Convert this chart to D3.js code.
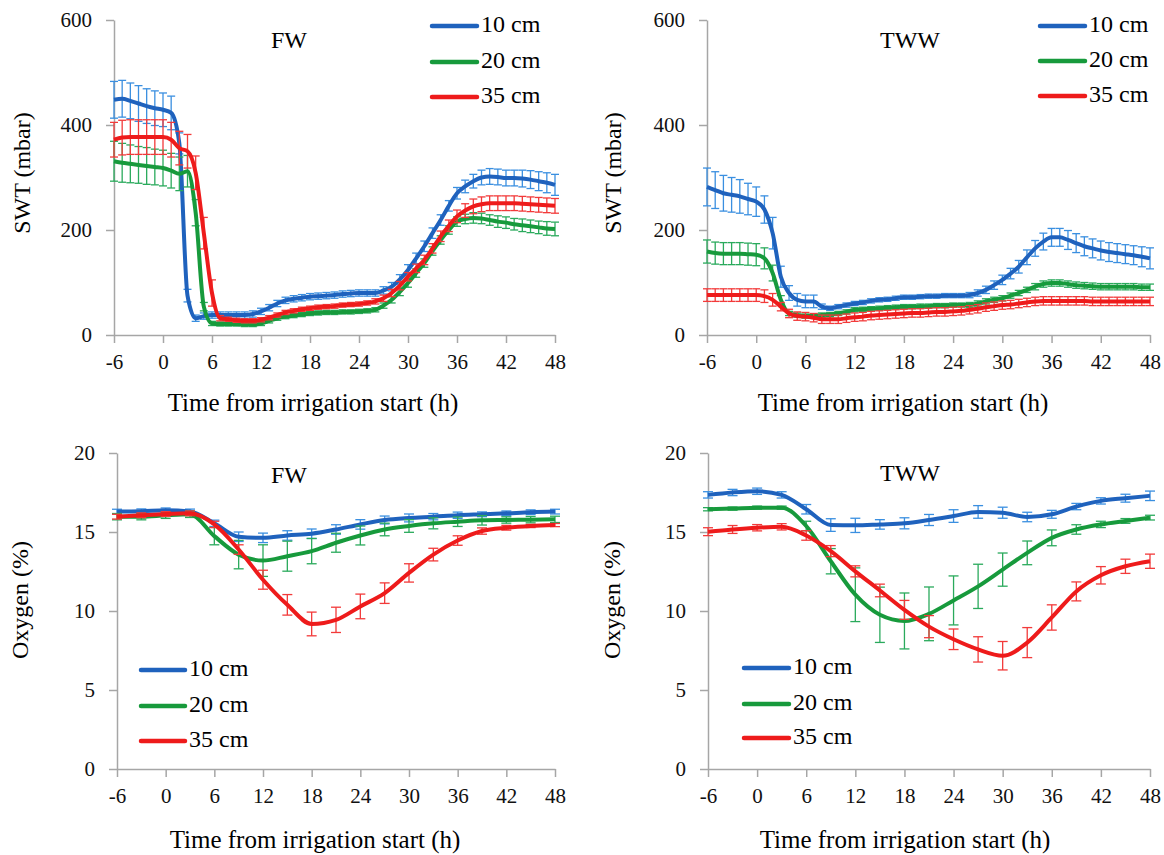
<!DOCTYPE html>
<html>
<head>
<meta charset="utf-8">
<script src="https://cdnjs.cloudflare.com/ajax/libs/d3/7.8.5/d3.min.js"></script>
<style>
  body { margin: 0; background: #fff; }
  svg, svg text { font-family: "Liberation Serif", "Times New Roman", serif; }
  .axis path, .axis line { stroke: #a6a6a6; stroke-width: 1.5; }
  .axis text { font-size: 21px; fill: #111; }
</style>
</head>
<body>
<svg id="chart" width="1164" height="855"></svg>
<script>
// hourly time grid (SWT) and 3-hourly grid (oxygen)
const hours = [-6, -5, -4, -3, -2, -1, 0, 1, 2, 3, 4, 5, 6, 7, 8, 9, 10, 11, 12, 13, 14, 15, 16, 17, 18, 19, 20,
  21, 22, 23, 24, 25, 26, 27, 28, 29, 30, 31, 32, 33, 34, 35, 36, 37, 38, 39, 40, 41, 42, 43, 44, 45, 46, 47, 48];
const hours3 = [-6, -3, 0, 3, 6, 9, 12, 15, 18, 21, 24, 27, 30, 33, 36, 39, 42, 45, 48];
const xTicks = [-6, 0, 6, 12, 18, 24, 30, 36, 42, 48];
const depths = ["10 cm", "20 cm", "35 cm"];

// SWT (mbar), FW
const swtFW10 = [448, 450, 446, 441, 436, 432, 429, 423, 365, 75, 32, 36, 38, 38, 38, 38, 38, 40, 45, 52, 60, 66, 69, 71, 73, 74, 75,
  76, 78, 79, 80, 80, 80, 85, 92, 106, 124, 146, 169, 194, 219, 246, 270, 283, 293, 300, 302, 301, 299, 299, 298, 296, 293, 290, 286];
const swtFW20 = [331, 328, 326, 324, 322, 320, 318, 313, 307, 312, 233, 54, 22, 21, 21, 21, 20, 20, 22, 27, 32, 35, 37, 39, 41, 42, 43,
  43, 44, 44, 45, 46, 48, 56, 67, 82, 99, 118, 137, 160, 181, 200, 216, 221, 223, 222, 219, 216, 214, 211, 209, 207, 205, 203, 202];
const swtFW35 = [372, 376, 377, 377, 377, 377, 377, 372, 356, 350, 309, 194, 80, 32, 30, 28, 27, 27, 29, 33, 38, 43, 46, 49, 51, 53, 54,
  55, 57, 58, 59, 61, 64, 70, 80, 94, 111, 127, 143, 165, 188, 208, 226, 237, 245, 249, 251, 251, 251, 251, 250, 249, 248, 247, 246];
const errFW10 = [35, 35, 34, 34, 33, 33, 32, 32, 20, 12, 6, 6, 6, 6, 6, 6, 6, 6, 6, 6, 6, 6, 6, 6, 6, 6, 6,
  6, 6, 6, 6, 6, 6, 7, 8, 9, 10, 10, 10, 10, 10, 10, 11, 12, 13, 14, 15, 15, 15, 15, 16, 17, 18, 19, 20];
const errFW20 = [38, 37, 36, 35, 35, 34, 34, 33, 32, 30, 25, 8, 4, 4, 4, 4, 4, 4, 4, 4, 4, 4, 4, 4, 4, 4, 4,
  4, 4, 4, 4, 4, 4, 5, 6, 7, 8, 8, 8, 8, 8, 8, 9, 9, 10, 10, 10, 11, 11, 11, 12, 12, 12, 13, 13];
const errFW35 = [33, 33, 33, 33, 33, 33, 33, 33, 32, 32, 32, 30, 25, 5, 4, 4, 4, 4, 4, 4, 4, 4, 4, 4, 4, 4, 4,
  4, 4, 4, 4, 4, 5, 6, 7, 8, 8, 8, 9, 9, 10, 11, 12, 13, 14, 14, 14, 14, 14, 14, 14, 14, 14, 14, 14];

// SWT (mbar), TWW
const swtTWW10 = [282, 276, 270, 267, 264, 259, 254, 239, 194, 111, 80, 67, 64, 64, 54, 51, 54, 57, 60, 62, 65, 67, 68, 70, 72, 72, 73,
  74, 74, 75, 75, 75, 76, 80, 86, 95, 105, 117, 130, 148, 165, 178, 186, 186, 181, 175, 169, 165, 161, 158, 156, 154, 152, 149, 146];
const swtTWW20 = [159, 156, 155, 155, 155, 154, 153, 146, 118, 67, 41, 38, 36, 36, 38, 39, 41, 44, 48, 49, 50, 51, 52, 53, 54, 54, 55,
  55, 56, 56, 57, 57, 57, 60, 64, 67, 70, 75, 80, 86, 92, 97, 99, 99, 97, 95, 94, 93, 92, 92, 92, 92, 92, 91, 91];
const swtTWW35 = [76, 76, 76, 76, 76, 76, 76, 74, 67, 54, 41, 36, 35, 33, 30, 30, 30, 32, 34, 35, 37, 38, 39, 40, 41, 42, 42,
  43, 44, 44, 45, 46, 48, 50, 53, 55, 57, 58, 60, 62, 64, 65, 65, 65, 65, 65, 65, 64, 64, 64, 64, 64, 64, 64, 64];
const errTWW10 = [36, 35, 34, 33, 32, 30, 28, 26, 30, 20, 14, 12, 12, 12, 5, 4, 4, 4, 4, 4, 4, 4, 4, 4, 4, 4, 4,
  4, 4, 4, 4, 4, 5, 6, 7, 8, 9, 10, 12, 14, 15, 16, 17, 17, 18, 18, 18, 18, 18, 18, 18, 18, 18, 19, 20];
const errTWW20 = [22, 21, 21, 21, 21, 21, 21, 20, 15, 8, 4, 4, 4, 4, 4, 4, 4, 4, 4, 4, 4, 4, 4, 4, 4, 4, 4,
  4, 4, 4, 4, 4, 5, 5, 5, 5, 5, 5, 5, 5, 6, 6, 6, 6, 6, 6, 6, 6, 6, 6, 6, 6, 6, 6, 6];
const errTWW35 = [12, 12, 12, 12, 12, 12, 12, 12, 12, 8, 8, 8, 8, 8, 8, 8, 8, 8, 8, 8, 8, 8, 8, 8, 8, 8, 8,
  8, 8, 8, 8, 8, 8, 8, 8, 8, 8, 8, 8, 8, 8, 8, 8, 8, 8, 8, 8, 8, 8, 8, 8, 8, 8, 8, 8];

// Oxygen (%), FW
const oxFW10 = [16.29, 16.31, 16.37, 16.30, 15.55, 14.70, 14.63, 14.78, 14.89, 15.16, 15.48, 15.76, 15.89, 15.97, 16.06, 16.12, 16.18, 16.25, 16.29];
const oxFW20 = [15.97, 15.97, 16.06, 16.12, 14.74, 13.57, 13.19, 13.47, 13.79, 14.32, 14.78, 15.16, 15.38, 15.55, 15.65, 15.74, 15.76, 15.78, 15.80];
const oxFW35 = [15.97, 16.06, 16.14, 16.18, 15.48, 13.89, 11.98, 10.39, 9.18, 9.44, 10.29, 11.13, 12.41, 13.57, 14.46, 15.06, 15.27, 15.38, 15.44];
const oxErrFW10 = [0.15, 0.15, 0.15, 0.15, 0.2, 0.3, 0.3, 0.3, 0.3, 0.3, 0.3, 0.25, 0.25, 0.2, 0.2, 0.15, 0.15, 0.15, 0.15];
const oxErrFW20 = [0.2, 0.2, 0.2, 0.2, 0.55, 0.9, 1.0, 0.95, 0.8, 0.6, 0.6, 0.4, 0.4, 0.35, 0.3, 0.3, 0.2, 0.2, 0.2];
const oxErrFW35 = [0.15, 0.15, 0.15, 0.15, 0.2, 0.3, 0.6, 0.65, 0.75, 0.8, 0.78, 0.65, 0.58, 0.4, 0.3, 0.2, 0.15, 0.1, 0.1];

// Oxygen (%), TWW
const oxTWW10 = [17.35, 17.50, 17.58, 17.35, 16.44, 15.44, 15.42, 15.48, 15.55, 15.76, 16.01, 16.27, 16.22, 15.95, 16.12, 16.61, 16.97, 17.14, 17.29];
const oxTWW20 = [16.44, 16.48, 16.54, 16.54, 15.38, 13.15, 11.03, 9.76, 9.37, 9.82, 10.67, 11.56, 12.62, 13.68, 14.63, 15.16, 15.48, 15.70, 15.91];
const oxTWW35 = [15.02, 15.16, 15.27, 15.33, 14.78, 13.79, 12.51, 11.30, 10.07, 9.01, 8.21, 7.57, 7.17, 8.00, 9.59, 11.24, 12.26, 12.83, 13.15];
const oxErrTWW10 = [0.2, 0.2, 0.2, 0.2, 0.3, 0.4, 0.45, 0.3, 0.35, 0.35, 0.4, 0.4, 0.35, 0.3, 0.25, 0.2, 0.2, 0.25, 0.3];
const oxErrTWW20 = [0.1, 0.1, 0.1, 0.1, 0.3, 0.8, 1.7, 1.75, 1.77, 1.7, 1.55, 1.4, 1.05, 0.75, 0.5, 0.3, 0.2, 0.15, 0.15];
const oxErrTWW35 = [0.25, 0.25, 0.2, 0.2, 0.3, 0.35, 0.35, 0.4, 0.6, 0.7, 0.65, 0.8, 0.9, 0.95, 0.8, 0.6, 0.55, 0.45, 0.45];

const lineColors = ["#1f62bd", "#179a3c", "#ee1b1b"];
const barColors = ["#3a8fe0", "#2aaa5c", "#f23a3a"];
const serif = "'Liberation Serif', 'Times New Roman', serif";

const svg = d3.select("#chart");

const panels = [
  { title: "FW", x: [114, 555], y: [335, 20], yMax: 600, yTicks: [0, 200, 400, 600], yLabel: "SWT (mbar)",
    t: hours, series: [swtFW10, swtFW20, swtFW35], errs: [errFW10, errFW20, errFW35], cap: 4,
    titlePos: [289, 42], yLabelPos: [24, 173], xLabelPos: [313, 405], legend: [432, 477, [26, 62, 97]] },
  { title: "TWW", x: [707, 1150], y: [335, 20], yMax: 600, yTicks: [0, 200, 400, 600], yLabel: "SWT (mbar)",
    t: hours, series: [swtTWW10, swtTWW20, swtTWW35], errs: [errTWW10, errTWW20, errTWW35], cap: 4,
    titlePos: [910, 42], yLabelPos: [615, 173], xLabelPos: [903, 405], legend: [1040, 1085, [26, 61, 96]] },
  { title: "FW", x: [117, 555], y: [769, 453], yMax: 20, yTicks: [0, 5, 10, 15, 20], yLabel: "Oxygen (%)",
    t: hours3, series: [oxFW10, oxFW20, oxFW35], errs: [oxErrFW10, oxErrFW20, oxErrFW35], cap: 5,
    titlePos: [289, 477], yLabelPos: [22, 600], xLabelPos: [315, 842], legend: [141, 185, [670, 706, 741]] },
  { title: "TWW", x: [708, 1150], y: [769, 453], yMax: 20, yTicks: [0, 5, 10, 15, 20], yLabel: "Oxygen (%)",
    t: hours3, series: [oxTWW10, oxTWW20, oxTWW35], errs: [oxErrTWW10, oxErrTWW20, oxErrTWW35], cap: 5,
    titlePos: [910, 475], yLabelPos: [614, 600], xLabelPos: [905, 842], legend: [744, 789, [668, 704, 738]] }
];

function drawPanel(p) {
  const x = d3.scaleLinear().domain([-6, 48]).range(p.x);
  const y = d3.scaleLinear().domain([0, p.yMax]).range(p.y);

  // axes (plain hyphen for negative ticks, like the original)
  svg.append("g")
      .attr("class", "axis")
      .attr("transform", `translate(0,${p.y[0]})`)
      .call(d3.axisBottom(x).tickValues(xTicks).tickFormat(d => String(d))
        .tickSize(8).tickSizeOuter(0).tickPadding(11))
      .attr("font-family", serif);

  svg.append("g")
      .attr("class", "axis")
      .attr("transform", `translate(${p.x[0]},0)`)
      .call(d3.axisLeft(y).tickValues(p.yTicks).tickFormat(d => String(d))
        .tickSize(8).tickSizeOuter(0).tickPadding(14))
      .attr("font-family", serif);

  const line = d3.line()
      .x(d => x(d[0]))
      .y(d => y(d[1]))
      .curve(d3.curveMonotoneX);

  p.series.forEach((vals, s) => {
    const pts = p.t.map((h, i) => [h, vals[i], p.errs[s][i]]);
    const g = svg.append("g");

    // error bars
    const bars = g.selectAll(".eb")
      .data(pts)
      .enter().append("g")
        .attr("stroke", barColors[s])
        .attr("stroke-width", 1.3);
    bars.append("line")
        .attr("x1", d => x(d[0])).attr("x2", d => x(d[0]))
        .attr("y1", d => y(d[1] - d[2])).attr("y2", d => y(d[1] + d[2]));
    bars.append("line")
        .attr("x1", d => x(d[0]) - p.cap).attr("x2", d => x(d[0]) + p.cap)
        .attr("y1", d => y(d[1] + d[2])).attr("y2", d => y(d[1] + d[2]));
    bars.append("line")
        .attr("x1", d => x(d[0]) - p.cap).attr("x2", d => x(d[0]) + p.cap)
        .attr("y1", d => y(d[1] - d[2])).attr("y2", d => y(d[1] - d[2]));

    g.append("path")
        .datum(pts)
        .attr("fill", "none")
        .attr("stroke", lineColors[s])
        .attr("stroke-width", 4)
        .attr("stroke-linejoin", "round")
        .attr("d", line);
  });

  // panel title
  svg.append("text")
      .attr("x", p.titlePos[0]).attr("y", p.titlePos[1])
      .attr("text-anchor", "middle").attr("dominant-baseline", "middle")
      .attr("font-family", serif).attr("font-size", 24)
      .text(p.title);

  // axis titles
  svg.append("text")
      .attr("transform", `translate(${p.yLabelPos[0]},${p.yLabelPos[1]}) rotate(-90)`)
      .attr("text-anchor", "middle").attr("dominant-baseline", "middle")
      .attr("font-family", serif).attr("font-size", 24)
      .text(p.yLabel);

  svg.append("text")
      .attr("x", p.xLabelPos[0]).attr("y", p.xLabelPos[1])
      .attr("text-anchor", "middle").attr("dominant-baseline", "middle")
      .attr("font-family", serif).attr("font-size", 25)
      .text("Time from irrigation start (h)");

  // legend
  const [lx0, lx1, rows] = p.legend;
  depths.forEach((name, i) => {
    svg.append("line")
        .attr("x1", lx0).attr("x2", lx1)
        .attr("y1", rows[i]).attr("y2", rows[i])
        .attr("stroke", lineColors[i])
        .attr("stroke-width", 4.5)
        .attr("stroke-linecap", "round");
    svg.append("text")
        .attr("x", lx1 + 4).attr("y", rows[i])
        .attr("dominant-baseline", "middle")
        .attr("font-family", serif).attr("font-size", 24)
        .text(name);
  });
}

panels.forEach(drawPanel);
</script>
</body>
</html>
